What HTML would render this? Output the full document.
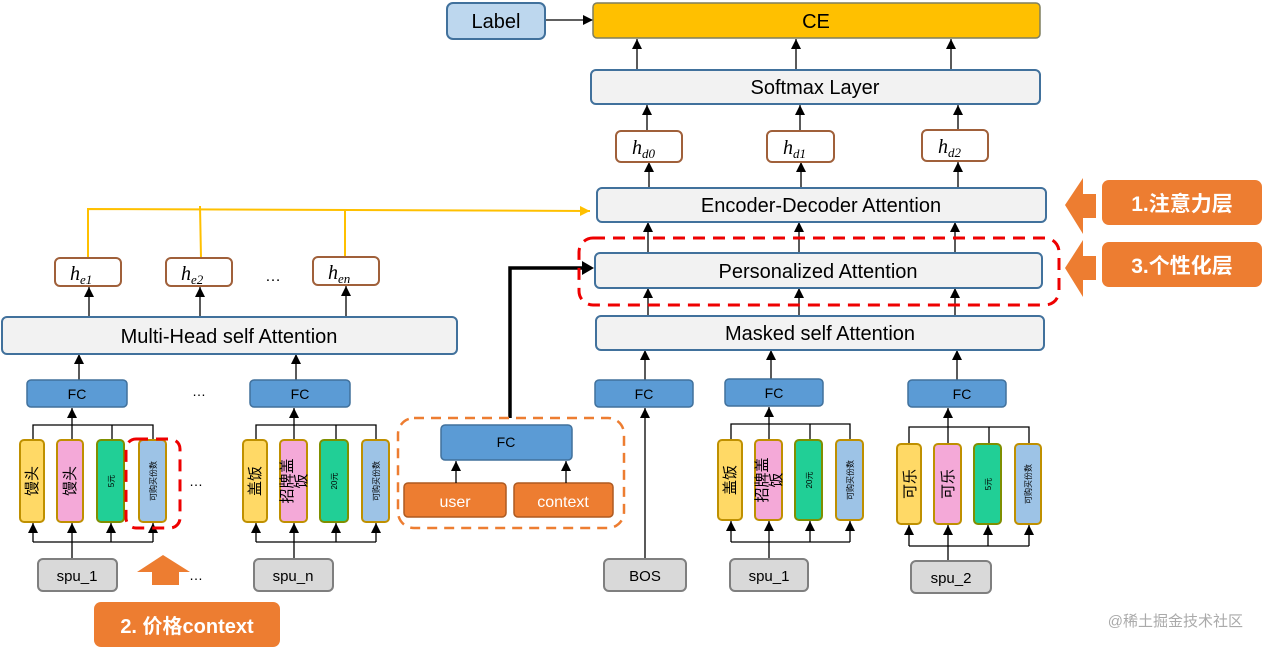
<!DOCTYPE html>
<html><head><meta charset="utf-8"><style>
html,body{margin:0;padding:0;background:#fff;width:1262px;height:650px;overflow:hidden}
svg text{font-family:"Liberation Sans","Noto Sans CJK SC",sans-serif}
</style></head><body>
<svg width="1262" height="650" viewBox="0 0 1262 650" xmlns="http://www.w3.org/2000/svg">
<defs>
<marker id="a" markerWidth="12" markerHeight="12" refX="10" refY="5" orient="auto" markerUnits="userSpaceOnUse"><path d="M0,0 L10,5 L0,10 z" fill="#000"/></marker>
<marker id="y" markerWidth="12" markerHeight="12" refX="10" refY="5" orient="auto" markerUnits="userSpaceOnUse"><path d="M0,0 L10,5 L0,10 z" fill="#ffc000"/></marker>
</defs>
<g stroke="#000" stroke-width="1.3" fill="none" marker-end="url(#a)">
<line x1="545" y1="20" x2="593" y2="20"/>
<line x1="637" y1="70" x2="637" y2="39"/><line x1="796" y1="70" x2="796" y2="39"/><line x1="951" y1="70" x2="951" y2="39"/>
<line x1="647" y1="131" x2="647" y2="105"/><line x1="800" y1="131" x2="800" y2="105"/><line x1="958" y1="131" x2="958" y2="105"/>
<line x1="649" y1="188" x2="649" y2="162"/><line x1="801" y1="188" x2="801" y2="162"/><line x1="958" y1="188" x2="958" y2="162"/>
<line x1="648" y1="253" x2="648" y2="222"/><line x1="799" y1="253" x2="799" y2="222"/><line x1="955" y1="253" x2="955" y2="222"/>
<line x1="648" y1="316" x2="648" y2="288"/><line x1="799" y1="316" x2="799" y2="288"/><line x1="955" y1="316" x2="955" y2="288"/>
<line x1="645" y1="380" x2="645" y2="350"/><line x1="771" y1="380" x2="771" y2="350"/><line x1="957" y1="380" x2="957" y2="350"/>
<line x1="89" y1="317" x2="89" y2="287"/><line x1="200" y1="317" x2="200" y2="287"/><line x1="346" y1="317" x2="346" y2="286"/>
<line x1="79" y1="380" x2="79" y2="354"/><line x1="296" y1="380" x2="296" y2="354"/>
</g>
<!-- yellow -->
<g stroke="#ffc000" stroke-width="2" fill="none">
<polyline points="88,258 88,209 590,211" marker-end="url(#y)"/>
<line x1="200" y1="206" x2="201" y2="258"/><line x1="345" y1="210" x2="345" y2="257"/>
</g>
<!-- thick black -->
<polyline points="510,418 510,268 588,268" stroke="#000" stroke-width="3.5" fill="none"/>
<path d="M582,261 L594,268 L582,275 z" fill="#000"/>
<!-- boxes -->
<rect x="447" y="3" width="98" height="36" rx="6" fill="#bdd7ee" stroke="#41719c" stroke-width="2"/>
<text x="496" y="28" font-size="20" text-anchor="middle">Label</text>
<rect x="593" y="3" width="447" height="35" rx="4" fill="#ffc000" stroke="#7f7f5f" stroke-width="1.5"/>
<text x="816" y="28" font-size="20" text-anchor="middle">CE</text>
<g fill="#f2f2f2" stroke="#41719c" stroke-width="2">
<rect x="591" y="70" width="449" height="34" rx="5"/>
<rect x="597" y="188" width="449" height="34" rx="5"/>
<rect x="595" y="253" width="447" height="35" rx="5"/>
<rect x="596" y="316" width="448" height="34" rx="5"/>
<rect x="2" y="317" width="455" height="37" rx="5"/>
</g>
<g font-size="20" text-anchor="middle" fill="#000">
<text x="815" y="94">Softmax Layer</text>
<text x="821" y="212">Encoder-Decoder Attention</text>
<text x="818" y="278">Personalized Attention</text>
<text x="820" y="340">Masked self Attention</text>
<text x="229" y="343">Multi-Head self Attention</text>
</g>
<rect x="579" y="238" width="480" height="67" rx="14" fill="none" stroke="#e00" stroke-width="3" stroke-dasharray="12,8"/>
<!-- h boxes -->
<g fill="#fff" stroke="#a0603a" stroke-width="2">
<rect x="616" y="131" width="66" height="31" rx="5"/><rect x="767" y="131" width="67" height="31" rx="5"/><rect x="922" y="130" width="66" height="31" rx="5"/>
<rect x="55" y="258" width="66" height="28" rx="5"/><rect x="166" y="258" width="66" height="28" rx="5"/><rect x="313" y="257" width="66" height="28" rx="5"/>
</g>
<g font-style="italic" font-size="20" fill="#000">
<text x="632" y="154" style="font-family:'Liberation Serif',serif">h<tspan font-size="13" dy="4">d0</tspan></text>
<text x="783" y="154" style="font-family:'Liberation Serif',serif">h<tspan font-size="13" dy="4">d1</tspan></text>
<text x="938" y="153" style="font-family:'Liberation Serif',serif">h<tspan font-size="13" dy="4">d2</tspan></text>
<text x="70" y="280" style="font-family:'Liberation Serif',serif">h<tspan font-size="13" dy="4">e1</tspan></text>
<text x="181" y="280" style="font-family:'Liberation Serif',serif">h<tspan font-size="13" dy="4">e2</tspan></text>
<text x="328" y="279" style="font-family:'Liberation Serif',serif">h<tspan font-size="13" dy="4">en</tspan></text>
</g>
<text x="273" y="281" font-size="16" text-anchor="middle">…</text>
<!-- orange tags -->
<path d="M1065,205 L1083,178 L1083,194 L1096,194 L1096,218 L1083,218 L1083,234 z" fill="#ed7d31"/>
<path d="M1065,268 L1083,240 L1083,256 L1096,256 L1096,280 L1083,280 L1083,297 z" fill="#ed7d31"/>
<rect x="1102" y="180" width="160" height="45" rx="7" fill="#ed7d31"/>
<rect x="1102" y="242" width="160" height="45" rx="7" fill="#ed7d31"/>
<text x="1182" y="211" font-size="21" font-weight="bold" fill="#fff" text-anchor="middle">1.注意力层</text>
<text x="1182" y="273" font-size="21" font-weight="bold" fill="#fff" text-anchor="middle">3.个性化层</text>
<rect x="94" y="602" width="186" height="45" rx="7" fill="#ed7d31"/>
<text x="187" y="633" font-size="20" font-weight="bold" fill="#fff" text-anchor="middle">2. 价格context</text>
<path d="M137,572 L163,555 L190,572 L179,572 L179,585 L152,585 L152,572 z" fill="#ed7d31"/>
<!-- FC boxes -->
<g fill="#5b9bd5" stroke="#41719c" stroke-width="1.5">
<rect x="27" y="380" width="100" height="27" rx="4"/><rect x="250" y="380" width="100" height="27" rx="4"/>
<rect x="441" y="425" width="131" height="35" rx="4"/>
<rect x="595" y="380" width="98" height="27" rx="4"/><rect x="725" y="379" width="98" height="27" rx="4"/><rect x="908" y="380" width="98" height="27" rx="4"/>
</g>
<g font-size="14" text-anchor="middle" fill="#000">
<text x="77" y="399">FC</text><text x="300" y="399">FC</text><text x="506" y="447">FC</text>
<text x="644" y="399">FC</text><text x="774" y="398">FC</text><text x="962" y="399">FC</text>
</g>
<text x="199" y="396" font-size="14" text-anchor="middle">…</text>
<!-- user/context -->
<rect x="398" y="418" width="226" height="110" rx="16" fill="none" stroke="#ed7d31" stroke-width="2.5" stroke-dasharray="10,7"/>
<rect x="404" y="483" width="102" height="34" rx="4" fill="#ed7d31" stroke="#ae5a21" stroke-width="1.5"/>
<rect x="514" y="483" width="99" height="34" rx="4" fill="#ed7d31" stroke="#ae5a21" stroke-width="1.5"/>
<text x="455" y="507" font-size="16" fill="#fff" text-anchor="middle">user</text>
<text x="563" y="507" font-size="16" fill="#fff" text-anchor="middle">context</text>
<g stroke="#000" stroke-width="1.3" marker-end="url(#a)"><line x1="456" y1="483" x2="456" y2="461"/><line x1="566" y1="483" x2="566" y2="461"/></g>

<!-- bar groups -->
<g stroke="#000" stroke-width="1.3" fill="none">
<polyline points="33,440 33,425 153,425 153,440"/><line x1="112" y1="425" x2="112" y2="440"/>
<line x1="72" y1="440" x2="72" y2="408" marker-end="url(#a)"/>
<polyline points="33,542 153,542"/>
<line x1="33" y1="542" x2="33" y2="523" marker-end="url(#a)"/><line x1="111" y1="542" x2="111" y2="523" marker-end="url(#a)"/><line x1="153" y1="542" x2="153" y2="523" marker-end="url(#a)"/>
<line x1="72" y1="559" x2="72" y2="523" marker-end="url(#a)"/>
</g>
<rect x="20" y="440" width="24" height="82" rx="4" fill="#ffd966" stroke="#bf9000" stroke-width="2"/>
<rect x="57" y="440" width="26" height="82" rx="4" fill="#f4a9d8" stroke="#bf9000" stroke-width="2"/>
<rect x="97" y="440" width="27" height="82" rx="4" fill="#21cf96" stroke="#7f8f00" stroke-width="2"/>
<rect x="139" y="440" width="27" height="82" rx="4" fill="#9dc3e6" stroke="#bf9000" stroke-width="2"/>
<g text-anchor="middle" fill="#000">
<text transform="translate(37,481) rotate(-90)" font-size="15">馒头</text>
<text transform="translate(75,481) rotate(-90)" font-size="15">馒头</text>
<text transform="translate(114,481) rotate(-90)" font-size="8">5元</text>
<text transform="translate(156,481) rotate(-90)" font-size="8">可购买份数</text>
</g>
<rect x="126" y="439" width="54" height="89" rx="10" fill="none" stroke="#e00" stroke-width="3" stroke-dasharray="12,8"/>
<text x="196" y="486" font-size="14" text-anchor="middle">…</text>
<text x="196" y="580" font-size="14" text-anchor="middle">…</text>

<g stroke="#000" stroke-width="1.3" fill="none">
<polyline points="256,440 256,425 376,425 376,440"/><line x1="336" y1="425" x2="336" y2="440"/>
<line x1="294" y1="440" x2="294" y2="408" marker-end="url(#a)"/>
<polyline points="256,542 376,542"/>
<line x1="256" y1="542" x2="256" y2="523" marker-end="url(#a)"/><line x1="336" y1="542" x2="336" y2="523" marker-end="url(#a)"/><line x1="376" y1="542" x2="376" y2="523" marker-end="url(#a)"/>
<line x1="294" y1="559" x2="294" y2="523" marker-end="url(#a)"/>
</g>
<rect x="243" y="440" width="24" height="82" rx="4" fill="#ffd966" stroke="#bf9000" stroke-width="2"/>
<rect x="280" y="440" width="27" height="82" rx="4" fill="#f4a9d8" stroke="#bf9000" stroke-width="2"/>
<rect x="320" y="440" width="28" height="82" rx="4" fill="#21cf96" stroke="#7f8f00" stroke-width="2"/>
<rect x="362" y="440" width="27" height="82" rx="4" fill="#9dc3e6" stroke="#bf9000" stroke-width="2"/>
<g text-anchor="middle" fill="#000">
<text transform="translate(260,481) rotate(-90)" font-size="15">盖饭</text>
<text transform="translate(292,481) rotate(-90)" font-size="15">招牌盖</text>
<text transform="translate(306,481) rotate(-90)" font-size="15">饭</text>
<text transform="translate(337,481) rotate(-90)" font-size="8">20元</text>
<text transform="translate(379,481) rotate(-90)" font-size="8">可购买份数</text>
</g>

<g stroke="#000" stroke-width="1.3" fill="none">
<polyline points="731,440 731,424 850,424 850,440"/><line x1="810" y1="424" x2="810" y2="440"/>
<line x1="769" y1="440" x2="769" y2="407" marker-end="url(#a)"/>
<polyline points="731,542 850,542"/>
<line x1="731" y1="542" x2="731" y2="521" marker-end="url(#a)"/><line x1="810" y1="542" x2="810" y2="521" marker-end="url(#a)"/><line x1="850" y1="542" x2="850" y2="521" marker-end="url(#a)"/>
<line x1="769" y1="559" x2="769" y2="521" marker-end="url(#a)"/>
</g>
<rect x="718" y="440" width="24" height="80" rx="4" fill="#ffd966" stroke="#bf9000" stroke-width="2"/>
<rect x="755" y="440" width="27" height="80" rx="4" fill="#f4a9d8" stroke="#bf9000" stroke-width="2"/>
<rect x="795" y="440" width="27" height="80" rx="4" fill="#21cf96" stroke="#7f8f00" stroke-width="2"/>
<rect x="836" y="440" width="27" height="80" rx="4" fill="#9dc3e6" stroke="#bf9000" stroke-width="2"/>
<g text-anchor="middle" fill="#000">
<text transform="translate(735,480) rotate(-90)" font-size="15">盖饭</text>
<text transform="translate(767,480) rotate(-90)" font-size="15">招牌盖</text>
<text transform="translate(781,480) rotate(-90)" font-size="15">饭</text>
<text transform="translate(812,480) rotate(-90)" font-size="8">20元</text>
<text transform="translate(853,480) rotate(-90)" font-size="8">可购买份数</text>
</g>

<g stroke="#000" stroke-width="1.3" fill="none">
<polyline points="909,444 909,427 1029,427 1029,444"/><line x1="989" y1="427" x2="989" y2="444"/>
<line x1="948" y1="444" x2="948" y2="408" marker-end="url(#a)"/>
<polyline points="909,546 1029,546"/>
<line x1="909" y1="546" x2="909" y2="525" marker-end="url(#a)"/><line x1="988" y1="546" x2="988" y2="525" marker-end="url(#a)"/><line x1="1029" y1="546" x2="1029" y2="525" marker-end="url(#a)"/>
<line x1="948" y1="561" x2="948" y2="525" marker-end="url(#a)"/>
</g>
<rect x="897" y="444" width="24" height="80" rx="4" fill="#ffd966" stroke="#bf9000" stroke-width="2"/>
<rect x="934" y="444" width="27" height="80" rx="4" fill="#f4a9d8" stroke="#bf9000" stroke-width="2"/>
<rect x="974" y="444" width="27" height="80" rx="4" fill="#21cf96" stroke="#7f8f00" stroke-width="2"/>
<rect x="1015" y="444" width="26" height="80" rx="4" fill="#9dc3e6" stroke="#bf9000" stroke-width="2"/>
<g text-anchor="middle" fill="#000">
<text transform="translate(915,484) rotate(-90)" font-size="15">可乐</text>
<text transform="translate(953,484) rotate(-90)" font-size="15">可乐</text>
<text transform="translate(991,484) rotate(-90)" font-size="8">5元</text>
<text transform="translate(1031,484) rotate(-90)" font-size="8">可购买份数</text>
</g>

<line x1="645" y1="559" x2="645" y2="408" stroke="#000" stroke-width="1.3" marker-end="url(#a)"/>
<!-- spu boxes -->
<g fill="#d9d9d9" stroke="#7f7f7f" stroke-width="2">
<rect x="38" y="559" width="79" height="32" rx="5"/><rect x="254" y="559" width="79" height="32" rx="5"/>
<rect x="604" y="559" width="82" height="32" rx="5"/><rect x="730" y="559" width="78" height="32" rx="5"/><rect x="911" y="561" width="80" height="32" rx="5"/>
</g>
<g font-size="15" text-anchor="middle" fill="#000">
<text x="77" y="581">spu_1</text><text x="293" y="581">spu_n</text><text x="645" y="581">BOS</text><text x="769" y="581">spu_1</text><text x="951" y="583">spu_2</text>
</g>
<text x="1243" y="626" font-size="15" fill="#aaa" text-anchor="end">@稀土掘金技术社区</text>
</svg>
</body></html>
